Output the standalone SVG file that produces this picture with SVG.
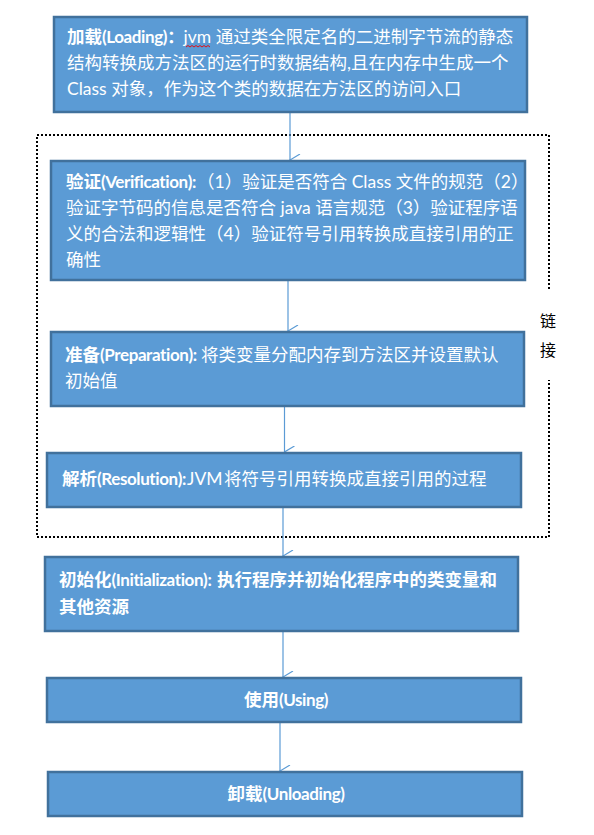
<svg xmlns="http://www.w3.org/2000/svg" width="594" height="835" viewBox="0 0 594 835">
<defs>
<style>
.box{fill:#5B9BD5;stroke:#41719C;stroke-width:2.5}
.t{font-family:Lato,"Noto Sans CJK SC",sans-serif;font-size:17.5px;fill:#fff}
.b{font-weight:bold}
.l{font-size:17px;letter-spacing:-0.4px}
.c{text-anchor:middle}
.conn line{stroke:#5B9BD5;stroke-width:1.2}
.lbl{font-family:"Noto Sans CJK SC",sans-serif;font-size:16px;fill:#000;text-anchor:middle}
</style>
<marker id="ah" viewBox="0 0 12 12" refX="6" refY="11" markerWidth="12" markerHeight="12" markerUnits="userSpaceOnUse" orient="auto-start-reverse">
<path d="M0,1 L6,11 L12,1" fill="none" stroke="#5B9BD5" stroke-width="1.2"/>
</marker>
</defs>
<rect width="594" height="835" fill="#fff"/>

<g id="linking-group">
<path d="M549,289 V135 H37 V537 H549 V380" fill="none" stroke="#000" stroke-width="2" stroke-dasharray="2,2"/>
<text class="lbl" x="548" y="327">链</text>
<text class="lbl" x="548" y="356">接</text>
</g>

<g class="conn" id="connectors">
<line x1="290" y1="113" x2="290" y2="160" marker-end="url(#ah)"/>
<line x1="288" y1="281" x2="288" y2="331" marker-end="url(#ah)"/>
<line x1="284.5" y1="407" x2="284.5" y2="452" marker-end="url(#ah)"/>
<line x1="283" y1="508" x2="283" y2="556" marker-end="url(#ah)"/>
<line x1="283" y1="632" x2="283" y2="677" marker-end="url(#ah)"/>
<line x1="280" y1="723" x2="280" y2="771" marker-end="url(#ah)"/>
</g>

<g id="loading">
<rect class="box" x="54" y="17" width="473" height="95"/>
<text class="t" x="67" y="43"><tspan class="b">加载<tspan class="l">(Loading)</tspan><tspan letter-spacing="-1">：</tspan></tspan>jvm 通过类全限定名的二进制字节流的静态</text>
<path d="M186,47 l2,-1.5 l2,1.5 l2,-1.5 l2,1.5 l2,-1.5 l2,1.5 l2,-1.5 l2,1.5 l2,-1.5 l2,1.5 l2,-1.5 l2,1.5" fill="none" stroke="#E00" stroke-width="0.9"/>
<text class="t" x="67" y="69">结构转换成方法区的运行时数据结构,且在内存中生成一个</text>
<text class="t" x="67" y="95">Class 对象，作为这个类的数据在方法区的访问入口</text>
</g>

<g id="verification">
<rect class="box" x="51" y="161" width="474" height="119"/>
<text class="t" x="66" y="188"><tspan class="b">验证<tspan class="l">(Verification):</tspan></tspan><tspan x="197">（1）验证是否符合 Class 文件的规范（2）</tspan></text>
<text class="t" x="66" y="214">验证字节码的信息是否符合 java 语言规范（3）验证程序语</text>
<text class="t" x="66" y="240">义的合法和逻辑性（4）验证符号引用转换成直接引用的正</text>
<text class="t" x="66" y="266">确性</text>
</g>

<g id="preparation">
<rect class="box" x="51" y="332" width="473" height="74"/>
<text class="t" x="65" y="361"><tspan class="b">准备<tspan class="l">(Preparation):</tspan></tspan><tspan x="201">将类变量分配内存到方法区并设置默认</tspan></text>
<text class="t" x="65" y="387">初始值</text>
</g>

<g id="resolution">
<rect class="box" x="47" y="453" width="474" height="54"/>
<text class="t" x="62" y="485"><tspan class="b">解析<tspan class="l">(Resolution):</tspan></tspan><tspan x="187">JVM</tspan><tspan x="224">将符号引用转换成直接引用的过程</tspan></text>
</g>

<g id="initialization">
<rect class="box" x="45" y="557" width="473" height="74"/>
<text class="t b" x="59" y="586">初始化<tspan class="l">(Initialization):</tspan><tspan x="217">执行程序并初始化程序中的类变量和</tspan></text>
<text class="t b" x="59" y="613">其他资源</text>
</g>

<g id="using">
<rect class="box" x="47" y="678" width="474" height="44"/>
<text class="t b c" x="286" y="706">使用<tspan class="l">(Using)</tspan></text>
</g>

<g id="unloading">
<rect class="box" x="48" y="772" width="474" height="44"/>
<text class="t b c" x="286" y="800">卸载<tspan class="l">(Unloading)</tspan></text>
</g>
</svg>
